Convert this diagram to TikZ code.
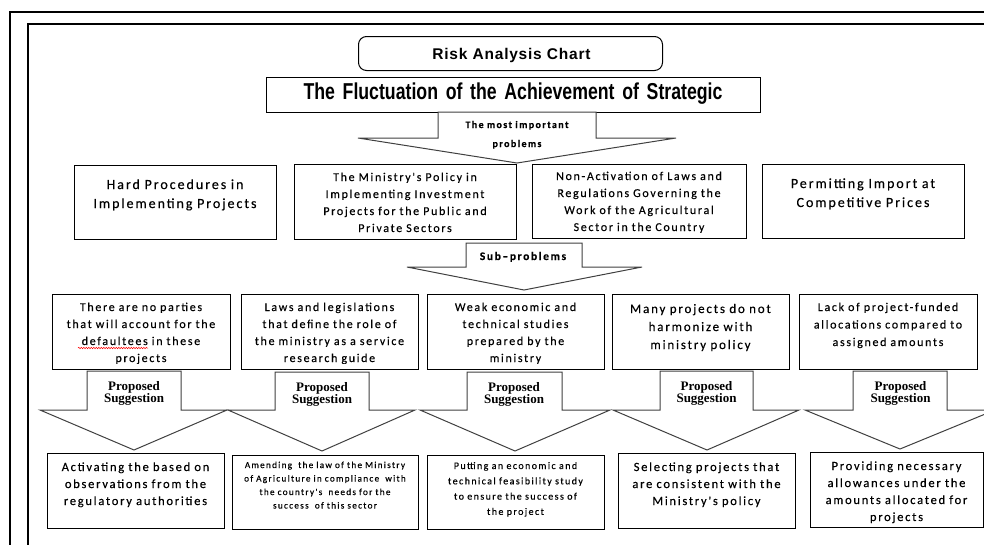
\documentclass[tikz,border=0pt]{standalone}
\usepackage{fontspec}
\setmainfont{Carlito}
\newfontfamily\bxf[LetterSpace=14,FakeBold=0.3]{Carlito}
\newfontfamily\hdf[FakeStretch=0.77]{Liberation Sans}
\newfontfamily\rkf[LetterSpace=5]{Liberation Sans}
\newfontfamily\tmf{Liberation Serif}
\usetikzlibrary{decorations.pathmorphing}
\tikzset{
  frameline/.style={line width=1.6pt},
  box/.style={draw=black, line width=1pt, anchor=north west, inner sep=0pt},
  bigarrow/.style={draw=black!75, line width=1pt, fill=white, line join=miter},
  txt/.style={anchor=base, align=center, inner sep=0pt, text width=#1, text=black},
  txt/.default=180,
  prop/.style={anchor=base, align=center, inner sep=0pt, text width=90,
    font=\fontsize{13}{12.5}\selectfont\tmf\bfseries},
}
\begin{document}
\begin{tikzpicture}[x=1pt,y=-1pt]
\useasboundingbox (0,0) rectangle (984,544);
\begin{scope}
\clip (0,0) rectangle (984,544);
\draw[frameline] (10,12) rectangle (1000,560);
\draw[frameline] (28,24) rectangle (1000,560);
\end{scope}

% title boxes
\node[box, rounded corners=8pt, minimum width=304, minimum height=34] (title) at (358,36) {};
\node[txt=300, font=\fontsize{15.5}{18}\selectfont\rkf\bfseries] (titlet) at (511.5,59.5) {Risk Analysis Chart};
\node[box, minimum width=494, minimum height=35] (fluct) at (266,77) {};
\node[txt=490, font=\fontsize{23}{26}\selectfont\hdf\bfseries] (fluctt) at (513,99) {The Fluctuation of the Achievement of Strategic};

% main arrow
\draw[bigarrow] (438,112) -- (596,112) -- (596,138) -- (676,138) -- (517,163) -- (358,138) -- (438,138) -- cycle;
\node[txt=150, font=\fontsize{10}{19}\selectfont\bxf\bfseries] (mostt) at (517,128) {The most important\\problems};

% row 1
\node[box, minimum width=202, minimum height=74] (p1) at (74,165) {};
\node[box, minimum width=222, minimum height=75] (p2) at (294,164) {};
\node[box, minimum width=214, minimum height=74] (p3) at (532,164) {};
\node[box, minimum width=202, minimum height=74] (p4) at (762,164) {};
\node[txt=200, font=\fontsize{14}{19}\selectfont\bxf] (p1t) at (175,189) {Hard Procedures in\\Implementing Projects};
\node[txt=220, font=\fontsize{12}{17}\selectfont\bxf] (p2t) at (405,181) {The Ministry's Policy in\\Implementing Investment\\Projects for the Public and\\Private Sectors};
\begin{scope}
\clip (532,164) rectangle (746,233.5);
\node[txt=212, font=\fontsize{12}{17}\selectfont\bxf] (p3t) at (639,180) {Non-Activation of Laws and\\Regulations Governing the\\Work of the Agricultural\\Sector in the Country};
\end{scope}
\node[txt=200, font=\fontsize{14}{19}\selectfont\bxf] (p4t) at (863,188) {Permitting Import at\\Competitive Prices};

% sub-problems arrow
\draw[bigarrow] (466,243) -- (582,243) -- (582,267) -- (642,267) -- (524,290) -- (407,267) -- (466,267) -- cycle;
\node[txt=116, font=\fontsize{11.5}{14}\selectfont\bxf\bfseries] (subt) at (523,260) {Sub–problems};

% row 2
\node[box, minimum width=178, minimum height=75] (sA) at (52,294) {};
\node[box, minimum width=177, minimum height=75] (sB) at (241,294) {};
\node[box, minimum width=177, minimum height=75] (sC) at (427,294) {};
\node[box, minimum width=177, minimum height=75] (sD) at (612,294) {};
\node[box, minimum width=178, minimum height=75] (sE) at (799,294) {};
\begin{scope}
\clip (52,294) rectangle (418,363);
\node[txt=176, font=\fontsize{12}{17}\selectfont\bxf] (sAt) at (141,311) {There are no parties\\that will account for the\\defaultees in these\\projects};
\node[txt=176, font=\fontsize{12}{17}\selectfont\bxf] (sBt) at (329.5,311) {Laws and legislations\\that define the role of\\the ministry as a service\\research guide};
\end{scope}
\begin{scope}
\clip (427,294) rectangle (604,363);
\node[txt=176, font=\fontsize{12}{17}\selectfont\bxf] (sCt) at (515.5,311) {Weak economic and\\technical studies\\prepared by the\\ministry};
\end{scope}
\node[txt=176, font=\fontsize{13}{18}\selectfont\bxf] (sDt) at (700.5,313) {Many projects do not\\harmonize with\\ministry policy};
\node[txt=176, font=\fontsize{12}{17.5}\selectfont\bxf] (sEt) at (888,311) {Lack of project-funded\\allocations compared to\\assigned amounts};
\draw[red, line width=0.5pt, decorate, decoration={snake, amplitude=0.7pt, segment length=2.5pt}] (78,348) -- (148,348);

% proposed suggestion arrows
\draw[bigarrow] (87,371) -- (181,371) -- (181,410) -- (227,410) -- (134,450) -- (40,410) -- (87,410) -- cycle;
\draw[bigarrow] (275,372) -- (369,372) -- (369,410) -- (415,410) -- (322,451) -- (228,410) -- (275,410) -- cycle;
\draw[bigarrow] (467,372) -- (562,372) -- (562,410) -- (610,410) -- (515,451) -- (420,410) -- (467,410) -- cycle;
\draw[bigarrow] (660,371) -- (753,371) -- (753,410) -- (799,410) -- (707,450) -- (613,410) -- (660,410) -- cycle;
\draw[bigarrow] (853,371) -- (947,371) -- (947,410) -- (995,410) -- (900,449) -- (805,410) -- (853,410) -- cycle;
\node[prop] (psA) at (134,390) {Proposed\\Suggestion};
\node[prop] (psB) at (322,391) {Proposed\\Suggestion};
\node[prop] (psC) at (514,391) {Proposed\\Suggestion};
\node[prop] (psD) at (706.5,390) {Proposed\\Suggestion};
\node[prop] (psE) at (900.5,390) {Proposed\\Suggestion};

% bottom row
\node[box, minimum width=177, minimum height=75] (r1) at (47,453) {};
\node[box, minimum width=186, minimum height=74] (r2) at (232,455) {};
\node[box, minimum width=177, minimum height=74] (r3) at (427,455) {};
\node[box, minimum width=177, minimum height=75] (r4) at (618,453) {};
\node[box, minimum width=173, minimum height=75] (r5) at (810,452) {};
\node[txt=176, font=\fontsize{12.5}{17}\selectfont\bxf] (r1t) at (135.5,471) {Activating the based on\\observations from the\\regulatory authorities};
\node[txt=186, font=\fontsize{9.2}{13.5}\selectfont\bxf] (r2t) at (325,468) {Amending~ the law of the Ministry\\of Agriculture in compliance~ with\\the country's~ needs for the\\success~ of this sector};
\node[txt=176, font=\fontsize{10}{15.3}\selectfont\bxf] (r3t) at (515.5,469) {Putting an economic and\\technical feasibility study\\to ensure the success of\\the project};
\node[txt=176, font=\fontsize{12.5}{17}\selectfont\bxf] (r4t) at (706.5,471) {Selecting projects that\\are consistent with the\\Ministry's policy};
\node[txt=172, font=\fontsize{12.5}{17}\selectfont\bxf] (r5t) at (896.5,470) {Providing necessary\\allowances under the\\amounts allocated for\\projects};
\end{tikzpicture}
\end{document}
